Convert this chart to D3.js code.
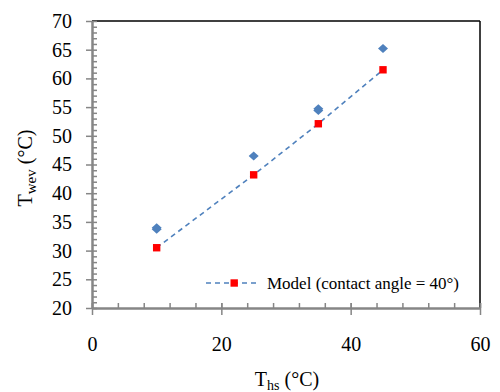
<!DOCTYPE html>
<html>
<head>
<meta charset="utf-8">
<script src="https://cdn.jsdelivr.net/npm/d3@7"></script>
<style>
  html, body { margin: 0; padding: 0; background: #fff; }
  svg { display: block; }
  svg text { font-family: "Liberation Serif", "Times New Roman", serif; }
</style>
</head>
<body>
<svg id="chart" width="500" height="392"></svg>
<script>
// Measured evaporator wall temperature vs heat source temperature
const measuredHs = [10, 10, 25, 35, 35, 45];
const measuredWev = [33.7, 34.0, 46.5, 54.4, 54.7, 65.2];

// Model prediction, contact angle = 40°
const modelHs = [10, 25, 35, 45];
const modelWev = [30.5, 43.2, 52.1, 61.5];

const xTicks = [0, 20, 40, 60];
const yTicks = [20, 25, 30, 35, 40, 45, 50, 55, 60, 65, 70];
const legendLabel = "Model (contact angle = 40°)";

const serif = '"Liberation Serif", "Times New Roman", serif';
const svg = d3.select("#chart");
const plotLeft = 92, plotRight = 480, plotTop = 21, plotBottom = 308;

const x = d3.scaleLinear().domain([0, 60]).range([plotLeft, plotRight]);
const y = d3.scaleLinear().domain([20, 70]).range([plotBottom, plotTop]);

const axisColor = "#868686";

// frame: black top and right edges
svg.append("line").attr("x1", plotLeft).attr("x2", plotRight).attr("y1", plotTop).attr("y2", plotTop)
  .attr("stroke", "#000").attr("stroke-width", 1.5);
svg.append("line").attr("x1", plotRight).attr("x2", plotRight).attr("y1", plotTop).attr("y2", plotBottom)
  .attr("stroke", "#000").attr("stroke-width", 1.5);

function styleAxis(g) {
  g.attr("font-family", null);
  g.selectAll("path.domain").attr("stroke", axisColor).attr("stroke-width", 2.5);
  g.selectAll(".tick line").attr("stroke", axisColor).attr("stroke-width", 1.5);
  g.selectAll(".tick text").style("font-family", serif).style("font-size", "20px").attr("fill", "#000");
}

// y axis: minor ticks inside every 1 °C, major ticks crossing every 5 °C
const yMinor = d3.range(20, 71, 1);
svg.append("g").attr("transform", `translate(${plotLeft},0)`)
  .call(d3.axisLeft(y).tickValues(yMinor).tickSize(-5).tickSizeOuter(0).tickFormat(""))
  .call(styleAxis);
const yMajor = svg.append("g").attr("transform", `translate(${plotLeft},0)`)
  .call(d3.axisLeft(y).tickValues(yTicks).tickSize(6).tickSizeOuter(0).tickPadding(14))
  .call(styleAxis);
yMajor.selectAll("path.domain").remove();

// x axis: minor ticks inside every 4 °C, major ticks crossing every 20 °C
const xMinor = d3.range(0, 61, 4).concat(xTicks);
svg.append("g").attr("transform", `translate(0,${plotBottom})`)
  .call(d3.axisBottom(x).tickValues(xMinor).tickSize(-5).tickSizeOuter(0).tickFormat(""))
  .call(styleAxis);
const xMajor = svg.append("g").attr("transform", `translate(0,${plotBottom})`)
  .call(d3.axisBottom(x).tickValues(xTicks).tickSize(7).tickSizeOuter(0).tickPadding(22))
  .call(styleAxis);
xMajor.selectAll("path.domain").remove();

const blue = "#4f81bd";
const red = "#ff0000";

// model curve
const line = d3.line().x(d => x(d[0])).y(d => y(d[1]));
const model = modelHs.map((h, i) => [h, modelWev[i]]);
svg.append("path").datum(model).attr("d", line)
  .attr("fill", "none").attr("stroke", blue).attr("stroke-width", 1.6)
  .attr("stroke-dasharray", "5,4");

// measured points as diamonds
const diamond = "M0,-4.5L5,0L0,4.5L-5,0Z";
svg.append("g").selectAll("path").data(measuredHs.map((h, i) => [h, measuredWev[i]]))
  .join("path")
  .attr("d", diamond)
  .attr("transform", d => `translate(${x(d[0])},${y(d[1])})`)
  .attr("fill", blue);

// model points as squares
svg.append("g").selectAll("rect").data(model).join("rect")
  .attr("x", d => x(d[0]) - 3.7).attr("y", d => y(d[1]) - 3.7)
  .attr("width", 7.4).attr("height", 7.4).attr("fill", red);

// legend
const lg = svg.append("g").attr("transform", "translate(206,283)");
lg.append("line").attr("x1", 0).attr("x2", 52).attr("y1", 0).attr("y2", 0)
  .attr("stroke", blue).attr("stroke-width", 1.6).attr("stroke-dasharray", "5,4");
lg.append("rect").attr("x", 24.5).attr("y", -3.7).attr("width", 7.4).attr("height", 7.4).attr("fill", red);
lg.append("text").attr("x", 61).attr("y", 6).style("font-size", "17px").attr("fill", "#000")
  .attr("textLength", 192).attr("lengthAdjust", "spacing")
  .text(legendLabel);

// axis titles with subscripts
const xt = svg.append("text").attr("x", 287).attr("y", 386).attr("text-anchor", "middle")
  .style("font-size", "20px").attr("fill", "#000");
xt.append("tspan").text("T");
xt.append("tspan").style("font-size", "14px").attr("dy", 4).text("hs");
xt.append("tspan").attr("dy", -4).text(" (°C)");

const yt = svg.append("text").attr("transform", "translate(32,168) rotate(-90)")
  .attr("text-anchor", "middle").style("font-size", "20px").attr("fill", "#000");
yt.append("tspan").text("T");
yt.append("tspan").style("font-size", "15px").attr("dy", 4).text("wev");
yt.append("tspan").attr("dy", -4).text(" (°C)");
</script>
</body>
</html>
